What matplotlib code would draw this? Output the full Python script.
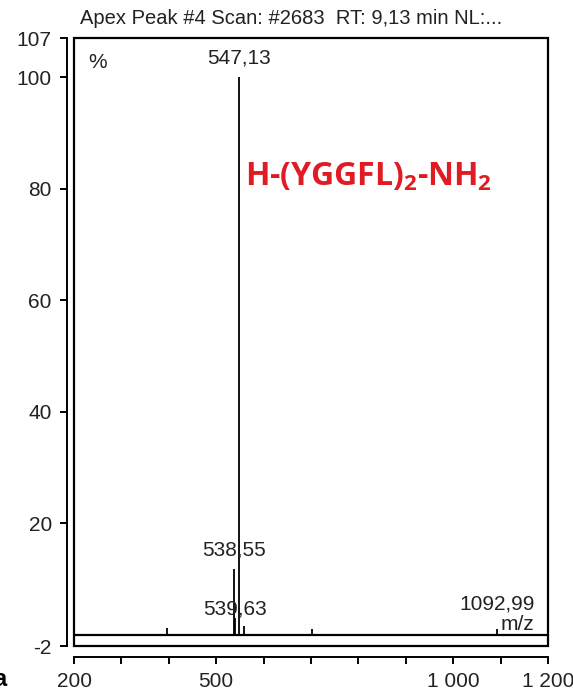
#
# Spectre de masse : H-(YGGFL)2-NH2
#
import matplotlib.pyplot as plt
from matplotlib.patches import Rectangle

# pics (m/z, intensité relative %)
mz = [396.0, 538.55, 539.63, 547.13, 558.5, 702.0, 1092.99]
intensite = [1.3, 11.8, 3.0, 100.0, 1.6, 1.0, 1.1]

# pics annotés
pics_annotes = [547.13, 538.55, 539.63, 1092.99]
y_ticks = [107, 100, 80, 60, 40, 20, -2]
x_ticks = [200, 300, 400, 500, 600, 700, 800, 900, 1000, 1100, 1200]
x_labels = {200: '200', 500: '500', 1000: '1 000', 1200: '1 200'}

titre = 'Apex Peak #4 Scan: #2683  RT: 9,13 min NL:...'
nom = 'H-(YGGFL)$_2$-NH$_2$'

plt.rcParams['font.family'] = ['Liberation Sans', 'DejaVu Sans']
plt.rcParams['mathtext.default'] = 'regular'

fig = plt.figure(figsize=(5.73, 6.99), dpi=100)
ax = fig.add_axes([74/573, 53/699, 474/573, 608/699])
ax.set_xlim(200, 1200)
ax.set_ylim(-2, 107)

# cadre
ax.add_patch(Rectangle((0, 0), 1, 1, transform=ax.transAxes, fill=False,
                       edgecolor='black', lw=1.6, clip_on=False, zorder=5))
ax.axhline(0, color='black', lw=1.6)

ax.vlines(mz, 0, intensite, color='black', lw=1.3)

for s in ['top', 'right']:
    ax.spines[s].set_visible(False)
ax.spines['left'].set_position(('outward', 5))
ax.spines['bottom'].set_position(('outward', 8))
ax.spines['left'].set_linewidth(1.4)
ax.spines['bottom'].set_linewidth(1.4)

ax.set_yticks(y_ticks)
ax.set_yticklabels([str(v) for v in y_ticks])
ax.set_xticks(x_ticks)
ax.set_xticklabels([x_labels.get(v, '') for v in x_ticks])
ax.tick_params(axis='both', direction='out', length=5, width=1.4,
               labelsize=15, labelcolor='#222222')
ax.tick_params(axis='y', pad=6)
ax.tick_params(axis='x', pad=6)

# annotations
def fmt(v):
    return ('%.2f' % v).replace('.', ',')

pos = {547.13: (547.13, 103.5), 538.55: (538.55, 15.2),
       539.63: (539.63, 4.6), 1092.99: (1092.99, 5.6)}
for p in pics_annotes:
    x, y = pos[p]
    ax.text(x, y, fmt(p), ha='center', va='center', fontsize=15, color='#222222')

ax.text(0.03, 0.975, '%', transform=ax.transAxes, ha='left', va='top',
        fontsize=15, color='#222222')
ax.text(1135, 1.9, 'm/z', ha='center', va='center', fontsize=15, color='#222222')

ax.text(561, 82, nom, ha='left', va='center', fontsize=23, color='#E01B24',
        fontweight='bold', fontfamily='Open Sans')

fig.text(80/573, 1 - 18/699, titre, ha='left', va='center', fontsize=14.5,
         color='#222222')
fig.text(-0.012, 0.012, 'a', ha='left', va='bottom', fontsize=17,
         fontweight='bold', color='black')

plt.savefig('out.png')
